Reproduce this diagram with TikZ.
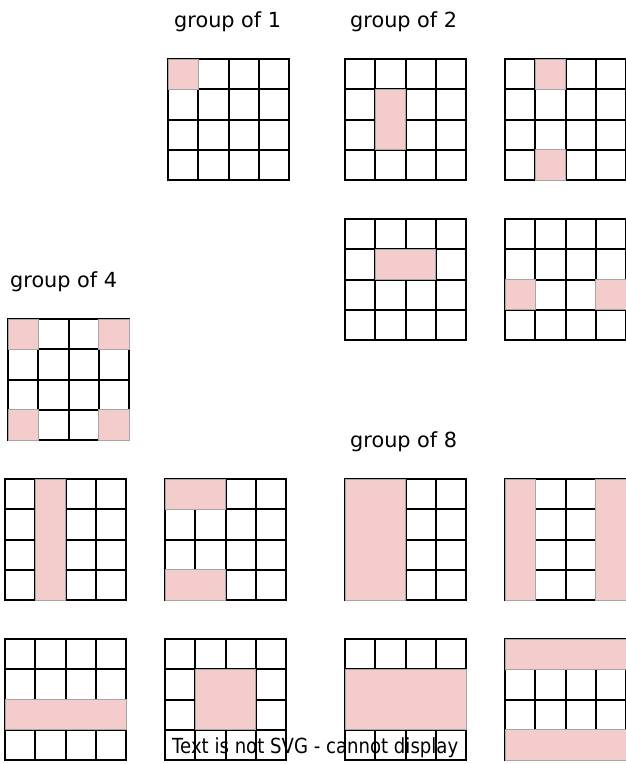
\documentclass[tikz,border=0pt]{standalone}
\usepackage{fontspec}
\setmainfont{DejaVu Sans}
\usepackage{graphicx}
\definecolor{hlpink}{HTML}{F4CCCC}
\def\cs{30.25}
\newcommand{\kgrid}[2]{%
  \begin{scope}[shift={(#1,#2)}]
    \foreach \i in {0,...,4}{%
      \draw[gridline] (\i*\cs,0) -- (\i*\cs,4*\cs);
      \draw[gridline] (0,\i*\cs) -- (4*\cs,\i*\cs);
    }
  \end{scope}}
\newcommand{\kfill}[6]{%
  \draw[hl] (#1+#3*\cs,#2+#4*\cs) rectangle (#1+#3*\cs+#5*\cs,#2+#4*\cs+#6*\cs);}
\begin{document}
\begin{tikzpicture}[x=1pt,y=-1pt,
  gridline/.style={black,line width=2pt,line cap=rect},
  hl/.style={fill=hlpink,draw=black!35,line width=0.7pt},
  lbl/.style={anchor=base west,inner sep=0pt,font=\fontsize{20.8}{24}\selectfont}]
\useasboundingbox (0,0) rectangle (626,764);
% labels
\node[lbl] (l1) at (174,27) {group of 1};
\node[lbl] (l2) at (350,27) {group of 2};
\node[lbl] (l4) at (10,287) {group of 4};
\node[lbl] (l8) at (350,447) {group of 8};
% group of 1
\kgrid{168}{59}
\kfill{168}{59}{0}{0}{1}{1}
% group of 2
\kgrid{345}{59}
\kfill{345}{59}{1}{1}{1}{2}
\kgrid{505}{59}
\kfill{505}{59}{1}{0}{1}{1}
\kfill{505}{59}{1}{3}{1}{1}
\kgrid{345}{219}
\kfill{345}{219}{1}{1}{2}{1}
\kgrid{505}{219}
\kfill{505}{219}{0}{2}{1}{1}
\kfill{505}{219}{3}{2}{1}{1}
% group of 4
\kgrid{8}{319}
\kfill{8}{319}{0}{0}{1}{1}
\kfill{8}{319}{3}{0}{1}{1}
\kfill{8}{319}{0}{3}{1}{1}
\kfill{8}{319}{3}{3}{1}{1}
\kgrid{5}{479}
\kfill{5}{479}{1}{0}{1}{4}
\kgrid{165}{479}
\kfill{165}{479}{0}{0}{2}{1}
\kfill{165}{479}{0}{3}{2}{1}
\kgrid{5}{639}
\kfill{5}{639}{0}{2}{4}{1}
\kgrid{165}{639}
\kfill{165}{639}{1}{1}{2}{2}
% group of 8
\kgrid{345}{479}
\kfill{345}{479}{0}{0}{2}{4}
\kgrid{505}{479}
\kfill{505}{479}{0}{0}{1}{4}
\kfill{505}{479}{3}{0}{1}{4}
\kgrid{345}{639}
\kfill{345}{639}{0}{1}{4}{2}
\kgrid{505}{639}
\kfill{505}{639}{0}{0}{4}{1}
\kfill{505}{639}{0}{3}{4}{1}
% bottom text
\node[lbl] (err) at (172,753) {\scalebox{0.87}[1]{Text is not SVG - cannot display}};
\end{tikzpicture}
\end{document}
